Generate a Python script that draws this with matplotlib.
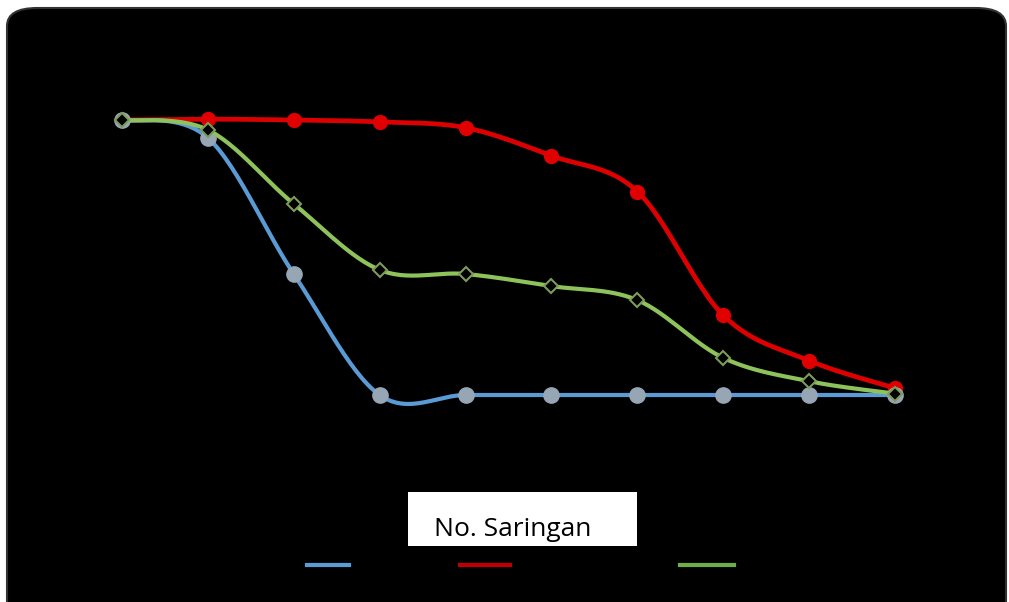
import numpy as np
import matplotlib
matplotlib.use("Agg")
import matplotlib.pyplot as plt
from matplotlib.patches import FancyBboxPatch
from matplotlib.lines import Line2D

# sieve numbers (category axis) and percent passing for each series
saringan = ['3/4"', '1/2"', '3/8"', 'No.4', 'No.8', 'No.16', 'No.30', 'No.50', 'No.100', 'No.200']
batas_bawah = [100, 93.5, 44, 0, 0, 0, 0, 0, 0, 0]
batas_atas = [100, 100.3, 100, 99.3, 97.2, 87, 74, 29, 12.5, 2.5]
hasil = [100, 96.4, 69.5, 45.5, 44, 39.6, 34.5, 13.5, 5, 0.5]
labels = ["Batas Bawah", "Batas Atas Spesifikasi", "Hasil Uji"]


def smooth(y, n=30):
    # excel-like smoothed line (catmull-rom bezier)
    x = np.arange(len(y), dtype=float)
    y = np.asarray(y, dtype=float)
    px = np.concatenate([[x[0]], x, [x[-1]]])
    py = np.concatenate([[y[0]], y, [y[-1]]])
    xs, ys = [], []
    t = np.linspace(0, 1, n)
    for i in range(len(x) - 1):
        p0 = np.array([px[i + 1], py[i + 1]])
        p3 = np.array([px[i + 2], py[i + 2]])
        p1 = p0 + (p3 - np.array([px[i], py[i]])) / 6
        p2 = p3 - (np.array([px[i + 3], py[i + 3]]) - p0) / 6
        b = ((1 - t) ** 3)[:, None] * p0 + (3 * (1 - t) ** 2 * t)[:, None] * p1 \
            + (3 * (1 - t) * t ** 2)[:, None] * p2 + (t ** 3)[:, None] * p3
        xs.append(b[:, 0])
        ys.append(b[:, 1])
    return np.concatenate(xs), np.concatenate(ys)


W, H = 1009, 602
fig = plt.figure(figsize=(W / 100, H / 100), dpi=100)
fig.patch.set_facecolor("white")

bg = FancyBboxPatch((7 / W, -0.05), 1006 / W - 7 / W, (H - 8) / H + 0.05,
                    boxstyle="round,pad=0,rounding_size=0.03",
                    transform=fig.transFigure, facecolor="black", edgecolor="#333333",
                    linewidth=1.5, zorder=-2)
fig.patches.append(bg)

# plot area: category 0 at x=122, 9 at x=895; 100% at y=120, 0% at y=395
ax = fig.add_axes([79 / W, 1 - 420 / H, (938 - 79) / W, (420 - 65) / H])
ax.patch.set_alpha(0)
ax.set_xlim(-0.5, 9.5)
ax.set_ylim(-25 / 2.75, 100 + 55 / 2.75)
for s in ax.spines.values():
    s.set_visible(False)
ax.set_xticks(range(len(saringan)))
ax.set_xticklabels(saringan, color="black")
ax.tick_params(colors="black", length=0)
ax.set_yticks([])

x = np.arange(len(saringan))
sx, sy = smooth(batas_atas)
ax.plot(sx, sy, color="#DD0000", lw=3.4, solid_capstyle="round", zorder=2)
ax.plot(x, batas_atas, "o", ms=10, mfc="#E00000", mec="#E00000", zorder=3)

sx, sy = smooth(batas_bawah)
ax.plot(sx, sy, color="#5B9BD5", lw=3, solid_capstyle="round", zorder=4)
ax.plot(x, batas_bawah, "o", ms=11, mfc="#97A6B4", mec="#97A6B4", zorder=5)

sx, sy = smooth(hasil)
ax.plot(sx, sy, color="#8DC35A", lw=3, solid_capstyle="round", zorder=6)
ax.plot(x, hasil, "D", ms=7, mfc="black", mec="#7E9A5C", mew=1.5, zorder=7)

# x-axis title in white box
fig.patches.append(plt.Rectangle((408 / W, 1 - 546 / H), 229 / W, 54 / H,
                                 transform=fig.transFigure, facecolor="white",
                                 edgecolor="none", zorder=1))
fig.text(513 / W, 1 - 529 / H, "No. Saringan", fontsize=19, family="Open Sans",
         ha="center", va="center", color="black", zorder=3)

# legend lines (labels are black on black)
leg_x = [(307, 349), (460, 510), (680, 734)]
leg_c = ["#5B9BD5", "#C00000", "#70AD47"]
for (x0, x1), c, lab in zip(leg_x, leg_c, labels):
    fig.lines.append(Line2D([x0 / W, x1 / W], [1 - 565 / H] * 2, transform=fig.transFigure,
                            color=c, lw=3))
    fig.text((x1 + 6) / W, 1 - 565 / H, lab, color="black", fontsize=10, va="center")

fig.savefig("out.png", dpi=100, facecolor="white")
